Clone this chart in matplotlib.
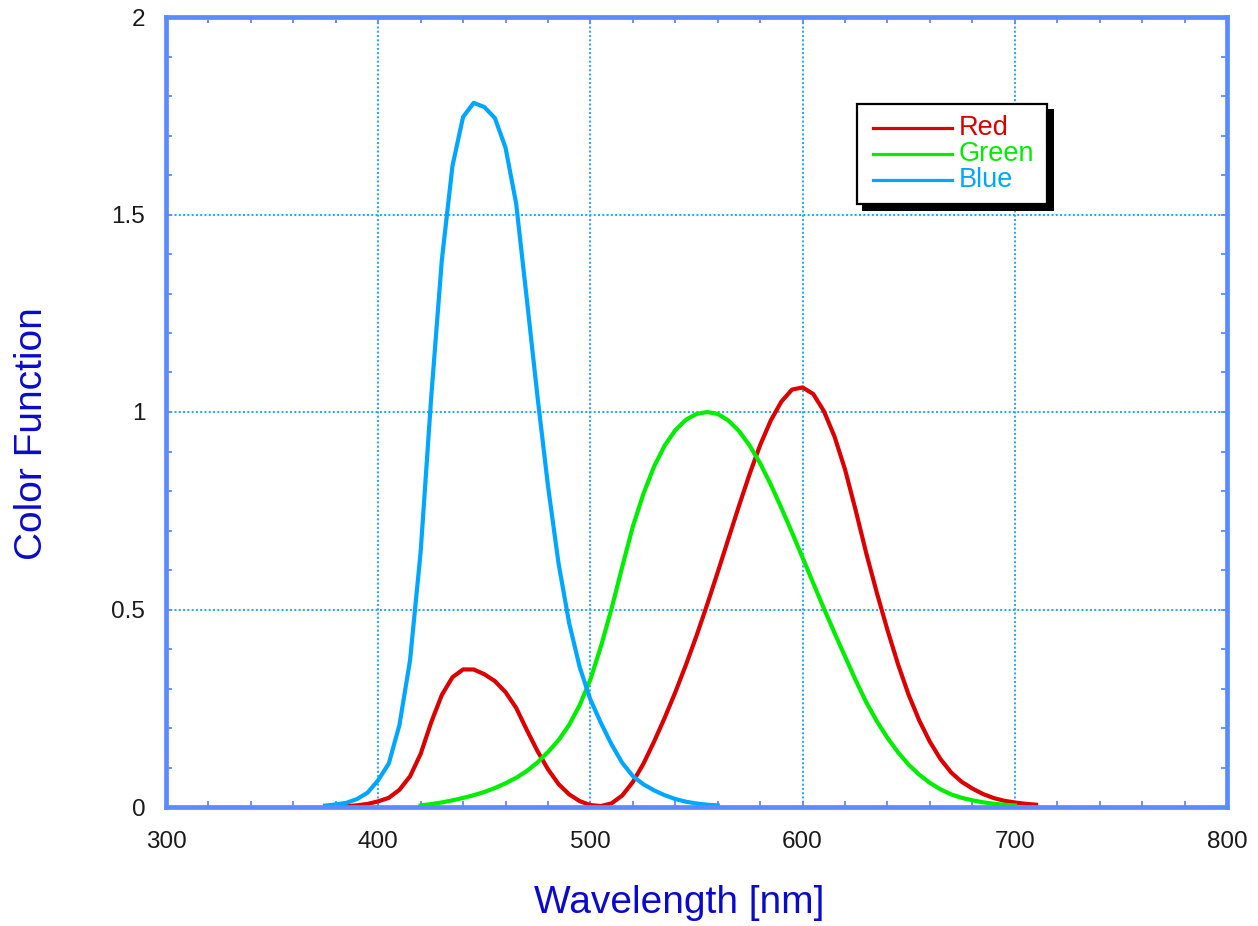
import matplotlib
matplotlib.use("Agg")
import matplotlib.pyplot as plt
from matplotlib.ticker import MultipleLocator, FixedLocator, FixedFormatter
from matplotlib.patches import Rectangle
from matplotlib.lines import Line2D

plt.rcParams['font.family'] = ['Liberation Sans', 'DejaVu Sans']

# ---- data (5 nm steps) ----
red_wl = list(range(380, 715, 5))
red_vals = [0.0014, 0.0022, 0.0042, 0.0077, 0.0143, 0.0232, 0.0435, 0.0776, 0.1344, 0.2148,
            0.2839, 0.3285, 0.3483, 0.3481, 0.3362, 0.3187, 0.2908, 0.2511, 0.1954, 0.1421,
            0.0956, 0.0580, 0.0320, 0.0147, 0.0049, 0.0024, 0.0093, 0.0291, 0.0633, 0.1096,
            0.1655, 0.2258, 0.2904, 0.3597, 0.4335, 0.5121, 0.5945, 0.6784, 0.7621, 0.8425,
            0.9163, 0.9786, 1.0263, 1.0567, 1.0622, 1.0456, 1.0026, 0.9384, 0.8545, 0.7514,
            0.6424, 0.5419, 0.4479, 0.3608, 0.2835, 0.2187, 0.1649, 0.1212, 0.0874, 0.0636,
            0.0468, 0.0329, 0.0227, 0.0158, 0.0114, 0.0081, 0.0058]

green_wl = list(range(420, 705, 5))
green_vals = [0.0040, 0.0073, 0.0116, 0.0168, 0.0230, 0.0298, 0.0380, 0.0480, 0.0600, 0.0739,
              0.0910, 0.1126, 0.1390, 0.1693, 0.2080, 0.2586, 0.3230, 0.4073, 0.5030, 0.6082,
              0.7100, 0.7932, 0.8620, 0.9149, 0.9540, 0.9803, 0.9950, 1.0000, 0.9950, 0.9786,
              0.9520, 0.9154, 0.8700, 0.8163, 0.7570, 0.6949, 0.6310, 0.5668, 0.5030, 0.4412,
              0.3810, 0.3210, 0.2650, 0.2170, 0.1750, 0.1382, 0.1070, 0.0816, 0.0610, 0.0446,
              0.0320, 0.0232, 0.0170, 0.0119, 0.0082, 0.0057, 0.0041]

blue_wl = list(range(375, 565, 5))
blue_vals = [0.0035, 0.0065, 0.0106, 0.0201, 0.0362, 0.0679, 0.1102, 0.2074, 0.3713, 0.6456,
             1.0391, 1.3856, 1.6230, 1.7471, 1.7826, 1.7721, 1.7441, 1.6692, 1.5281, 1.2876,
             1.0419, 0.8130, 0.6162, 0.4652, 0.3533, 0.2720, 0.2123, 0.1582, 0.1117, 0.0783,
             0.0573, 0.0422, 0.0298, 0.0203, 0.0134, 0.0088, 0.0058, 0.0039]

series_names = ["Red", "Green", "Blue"]
series_colors = ["#DC0000", "#00EE00", "#00A6FF"]

x_ticks = [300, 400, 500, 600, 700, 800]
x_tick_labels = ["300", "400", "500", "600", "700", "800"]
y_ticks = [0, 0.5, 1, 1.5, 2]
y_tick_labels = ["0", "0.5", "1", "1.5", "2"]

W, H = 1258, 926
fig = plt.figure(figsize=(W / 100, H / 100), dpi=100)
ax = fig.add_axes([166 / W, 1 - 807 / H, (1227 - 166) / W, (807 - 17) / H])


def fx(px):
    return px / W


def fy(py):
    return 1 - py / H


frame_color = "#5B8CFF"
grid_color = "#1EA5FF"

for wl, vals, name, col in zip([red_wl, green_wl, blue_wl],
                               [red_vals, green_vals, blue_vals],
                               series_names, series_colors):
    ax.plot(wl, vals, color=col, lw=3.0, label=name, zorder=2)

ax.set_xlim(300, 800)
ax.set_ylim(0, 2)

ax.xaxis.set_major_locator(FixedLocator(x_ticks))
ax.xaxis.set_major_formatter(FixedFormatter(x_tick_labels))
ax.yaxis.set_major_locator(FixedLocator(y_ticks))
ax.yaxis.set_major_formatter(FixedFormatter(y_tick_labels))
ax.xaxis.set_minor_locator(MultipleLocator(20))
ax.yaxis.set_minor_locator(MultipleLocator(0.1))

ax.tick_params(which='both', direction='in', top=True, right=True, length=4.5,
               width=1.3, color=frame_color)
ax.tick_params(axis='x', which='major', pad=17, labelsize=17.5, labelcolor='#1a1a1a')
ax.tick_params(axis='y', which='major', pad=15, labelsize=17.5, labelcolor='#1a1a1a')

ax.grid(True, which='major', color=grid_color, linestyle=(0, (1, 1.2)), lw=1.4)
for gl in ax.get_xgridlines() + ax.get_ygridlines():
    gl.set_zorder(1.5)

for sp in ax.spines.values():
    sp.set_color(frame_color)
    sp.set_linewidth(3.4)
    sp.set_zorder(3)

fig.text(fx(679), fy(913), "Wavelength [nm]", color="#0A0ACC", fontsize=28,
         ha='center', va='baseline')
fig.text(fx(32), fy(434), "Color Function", color="#0A0ACC", fontsize=28,
         ha='center', va='center', rotation=90)

# ---- legend box with hard black shadow ----
shadow = Rectangle((fx(862), fy(211)), fx(1054) - fx(862), fy(109) - fy(211),
                   transform=fig.transFigure, facecolor='black', edgecolor='none',
                   zorder=5.5, clip_on=False)
ax.add_artist(shadow)
box = Rectangle((fx(857), fy(204)), fx(1047) - fx(857), fy(104) - fy(204),
                transform=fig.transFigure, facecolor='white', edgecolor='black',
                lw=1.6, zorder=5.6, clip_on=False)
ax.add_artist(box)
row_y = [128, 154, 180]
for name, col, ry in zip(series_names, series_colors, row_y):
    ax.add_artist(Line2D([fx(873), fx(952)], [fy(ry), fy(ry)], color=col, lw=2.3,
                         transform=fig.transFigure, zorder=5.7, clip_on=False))
    ax.text(fx(959), fy(ry), name, color=col, fontsize=19.5, ha='left', va='center',
            transform=fig.transFigure, zorder=5.8, clip_on=False)

fig.savefig("out.png", dpi=100)
